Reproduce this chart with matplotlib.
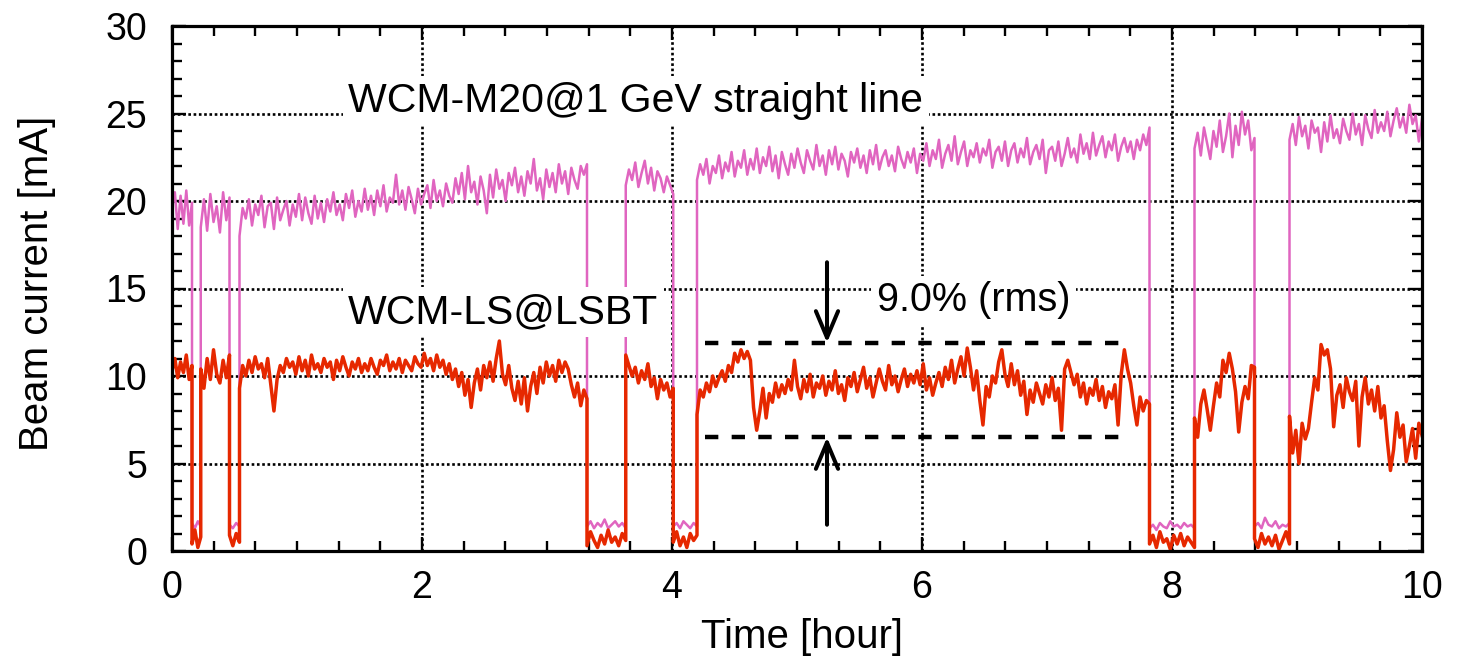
import numpy as np
import matplotlib
matplotlib.use("Agg")
import matplotlib.pyplot as plt
from matplotlib.ticker import MultipleLocator

# ---------------- data ----------------
# segment boundaries in hours (beam on / beam off alternating)
seg_bounds = [0.0, 0.16, 0.23, 0.46, 0.54, 3.32, 3.63, 4.01, 4.20, 7.82, 8.18, 8.66, 8.94, 10.0]

# WCM-M20 (pink) values per segment
pink_a = [19.6, 20.5, 18.4, 20.3, 18.7, 20.6, 18.6, 19.9]
pink_off1 = [1.6, 1.3, 1.7, 1.4]
pink_b = [18.5, 20.1, 18.3, 20.4, 18.8, 19.7, 18.2, 20.5, 18.9, 20.2]
pink_off2 = [1.5, 1.3, 1.6, 1.4]
pink_c = [18.0, 19.6, 19.0, 20.1, 18.6, 19.8, 19.2, 20.3, 18.5, 19.7,
          19.9, 18.4, 20.2, 18.9, 19.5, 20.0, 18.6, 19.8, 19.1, 20.4,
          18.9, 20.2, 19.3, 18.7, 20.3, 19.0, 19.9, 18.8, 20.1, 19.4,
          20.5, 19.2, 19.8, 18.9, 20.4, 19.6, 20.6, 19.1, 20.0, 19.4,
          20.7, 19.5, 20.3, 19.2, 20.6, 19.7, 20.9, 19.4, 20.2, 19.9,
          21.5, 19.8, 20.6, 19.5, 20.8, 20.1, 19.3, 20.7, 19.8, 20.4,
          20.9, 19.6, 21.2, 20.0, 20.6, 19.7, 21.0, 20.3, 19.9, 21.3,
          20.4, 21.6, 20.1, 22.0, 20.5, 21.1, 19.8, 21.4, 20.6, 19.3,
          21.5, 20.2, 21.8, 20.7, 21.2, 20.0, 21.6, 20.9, 21.9, 20.5,
          21.4, 20.3, 21.7, 21.0, 22.4, 20.6, 21.3, 20.1, 21.8, 20.8,
          21.6, 20.5, 22.1, 21.0, 21.7, 20.4, 21.9, 21.2, 20.7, 22.0,
          21.5, 22.1]
pink_off3 = [1.4, 1.7, 1.3, 1.6, 1.4, 1.8, 1.3, 1.5, 1.7, 1.4, 1.6, 1.3]
pink_d = [20.9, 21.8, 21.2, 22.2, 20.8, 21.6, 22.3, 21.0, 21.9, 20.6,
          21.7, 21.3, 20.5, 21.4, 20.9, 20.4]
pink_off4 = [1.4, 1.6, 1.3, 1.7, 1.5, 1.3, 1.6, 1.4]
pink_e = [21.2, 22.1, 21.5, 22.4, 21.0, 22.0, 21.6, 22.6, 21.3, 22.2,
          21.7, 22.8, 21.4, 22.3, 21.9, 22.9, 21.5, 22.4, 21.8, 23.0,
          21.6, 22.5, 22.0, 23.1, 21.7, 22.6, 21.3, 22.8, 22.1, 21.5,
          22.7, 21.9, 23.0, 22.2, 21.6, 22.9, 22.3, 21.8, 23.2, 22.0,
          22.6, 21.5, 22.9, 22.1, 23.1, 21.8, 22.7, 22.3, 21.4, 22.8,
          22.2, 23.0, 21.9, 22.6, 21.6, 22.9, 22.1, 23.2, 21.8, 22.5,
          22.9, 22.0, 22.6, 21.7, 23.1, 22.4, 21.9, 22.8, 22.2, 23.0,
          21.6, 22.7, 22.3, 23.3, 22.0, 22.9, 22.4, 23.5, 21.9, 22.7,
          23.2, 22.3, 23.7, 22.1, 22.8, 23.4, 22.0, 22.9, 22.5, 23.3,
          22.2, 23.0, 22.6, 23.5, 21.9, 22.8, 23.1, 22.3, 23.4, 22.0,
          22.9, 23.3, 22.2, 23.0, 22.5, 23.6, 22.1, 22.8, 23.2, 22.4,
          23.5, 21.6, 22.9, 23.1, 22.3, 23.4, 22.0, 22.7, 23.6, 22.5,
          23.0, 22.2, 23.8, 22.7, 23.3, 22.4, 23.9, 22.6, 23.2, 23.7,
          22.5, 23.4, 22.9, 23.8, 22.3, 23.1, 23.6, 22.8, 23.4, 22.4,
          23.5, 22.9, 23.8, 23.2, 24.2]
pink_off5 = [1.3, 1.5, 1.2, 1.6, 1.4, 1.3, 1.7, 1.4, 1.5, 1.3, 1.6, 1.4, 1.5, 1.3]
pink_f = [23.0, 23.9, 22.6, 24.2, 23.3, 22.4, 24.0, 23.1, 24.6, 22.8,
          23.7, 25.0, 22.5, 24.3, 23.2, 25.1, 23.8, 24.6, 22.9, 23.6]
pink_off6 = [1.4, 1.6, 1.3, 1.9, 1.5, 1.4, 1.7, 1.3, 1.5, 1.4, 1.6]
pink_g = [23.5, 24.4, 23.2, 24.8, 23.7, 24.3, 23.0, 24.6, 23.9, 24.2,
          22.8, 24.5, 23.4, 24.9, 23.6, 24.1, 23.3, 24.7, 24.0, 23.5,
          25.0, 23.8, 24.4, 23.2, 24.9, 24.1, 23.6, 25.2, 23.9, 24.5,
          24.0, 25.1, 23.7, 24.6, 25.3, 24.2, 24.8, 23.9, 25.5, 24.4,
          24.9, 23.4, 24.7]

# WCM-LS (red) values per segment
red_a = [10.3, 11.0, 9.9, 10.8, 10.2, 11.2, 9.8, 10.6]
red_off1 = [0.4, 1.2, 0.2, 0.8]
red_b = [10.4, 9.3, 11.0, 9.8, 11.5, 10.1, 9.6, 10.9, 9.9, 11.2]
red_off2 = [0.9, 0.3, 1.0, 0.5]
red_c = [9.3, 10.6, 10.0, 10.9, 10.2, 11.1, 10.4, 10.7, 9.9, 11.0,
         9.5, 8.0, 9.8, 10.6, 10.2, 11.0, 10.5, 10.8, 10.1, 11.1,
         10.3, 10.9, 10.0, 11.2, 10.4, 10.7, 10.2, 11.0, 10.5, 10.8,
         9.8, 10.9, 10.3, 11.1, 10.5, 10.0, 10.8, 10.4, 11.0, 10.2,
         10.7, 10.3, 11.0, 10.5, 10.1, 10.9, 10.6, 11.2, 10.3, 10.8,
         10.4, 11.0, 10.2, 10.9, 10.6, 10.3, 11.1, 10.7, 10.5, 11.3,
         10.6, 11.0, 10.3, 11.2, 10.5, 10.9, 10.1, 10.7, 9.8, 10.4,
         9.4, 10.2, 8.9, 9.8, 8.2, 9.6, 10.4, 9.2, 10.6, 9.9,
         10.8, 9.7, 11.0, 12.0, 10.1, 9.5, 10.6, 9.3, 8.6, 9.7,
         8.4, 9.9, 8.0, 9.4, 10.2, 9.0, 10.5, 9.6, 10.8, 10.0,
         10.6, 9.7, 10.9, 10.2, 10.8, 10.4, 9.5, 8.8, 9.6, 8.3,
         9.2, 8.7]
red_off3 = [0.3, 1.1, 0.6, 0.2, 0.9, 0.4, 1.2, 0.5, 0.8, 0.3, 1.0, 0.6]
red_d = [11.2, 10.6, 10.0, 10.5, 9.6, 10.3, 9.8, 10.7, 9.4, 9.9,
         8.7, 9.8, 9.2, 9.6, 8.8, 9.3]
red_off4 = [0.5, 1.1, 0.3, 0.8, 0.2, 1.0, 0.6, 0.9]
red_e = [7.8, 9.2, 8.8, 9.6, 9.1, 10.0, 9.4, 9.9, 10.3, 9.7,
         10.6, 10.2, 11.3, 10.8, 11.5, 11.0, 11.4, 10.9, 8.2, 6.9,
         8.0, 9.3, 7.6, 9.0, 8.5, 9.6, 8.8, 9.5, 9.0, 9.8,
         9.2, 10.9, 9.4, 8.7, 9.8, 9.1, 10.1, 8.8, 9.6, 9.3,
         10.0, 8.9, 9.7, 9.2, 10.3, 9.0, 9.5, 8.6, 9.9, 9.4,
         10.2, 9.1, 9.8, 10.5, 9.3, 9.9, 8.8, 9.6, 10.4, 9.7,
         9.2, 10.6, 9.5, 10.0, 9.1, 9.8, 10.4, 9.4, 10.1, 9.6,
         10.3, 9.5, 10.7, 9.2, 9.9, 8.9, 9.6, 10.2, 9.4, 10.5,
         9.8, 10.9, 9.6, 10.4, 11.1, 10.0, 11.6, 10.5, 9.2, 10.3,
         8.6, 7.2, 9.4, 8.8, 10.0, 9.6, 10.8, 11.5, 10.1, 9.4,
         10.7, 9.5, 10.3, 8.9, 9.7, 7.8, 9.2, 8.5, 9.6, 9.0,
         8.4, 9.5, 8.8, 9.9, 8.6, 9.3, 6.9, 10.4, 10.9, 10.2,
         9.5, 10.1, 8.8, 9.6, 8.4, 9.3, 8.9, 9.8, 8.6, 9.4,
         8.2, 9.1, 8.7, 9.5, 7.2, 10.1, 11.5, 10.4, 9.6, 8.3,
         7.2, 8.8, 8.0, 8.6, 8.4]
red_off5 = [0.4, 0.9, 0.2, 1.1, 0.5, 0.7, 0.1, 0.9, 0.4, 1.0, 0.3, 0.8, 0.5, 0.2]
red_f = [7.6, 6.5, 8.4, 9.2, 8.1, 6.9, 8.3, 9.6, 8.8, 10.9,
         10.2, 11.3, 10.4, 9.1, 6.8, 8.5, 9.4, 8.7, 10.6, 10.5]
red_off6 = [0.7, 0.2, 1.0, 0.4, 0.8, 0.3, 0.9, 0.1, 0.6, 1.1, 0.4]
red_g = [7.7, 5.6, 6.9, 5.0, 7.3, 6.4, 7.0, 8.5, 9.9, 9.2,
         11.8, 11.2, 11.5, 10.4, 7.1, 8.9, 9.5, 8.2, 9.9, 9.1,
         8.6, 9.7, 6.0, 8.8, 9.9, 8.4, 9.2, 8.0, 9.4, 7.6,
         8.3, 6.3, 4.6, 5.8, 7.9, 6.5, 7.2, 5.1, 6.0, 7.0,
         5.3, 7.3, 6.6]

pink_segments = [pink_a, pink_off1, pink_b, pink_off2, pink_c, pink_off3, pink_d,
                 pink_off4, pink_e, pink_off5, pink_f, pink_off6, pink_g]
red_segments = [red_a, red_off1, red_b, red_off2, red_c, red_off3, red_d,
                red_off4, red_e, red_off5, red_f, red_off6, red_g]

# rms band annotation
band_levels = [11.9, 6.5]
band_span = [4.26, 7.65]
arrow_x = 5.24
arrow_tails = [16.5, 1.5]

x_ticks = [0, 2, 4, 6, 8, 10]
y_ticks = [0, 5, 10, 15, 20, 25, 30]


def build(segments):
    ts, vs = [], []
    for i, vals in enumerate(segments):
        ts.append(np.linspace(seg_bounds[i], seg_bounds[i + 1], len(vals)))
        vs.append(np.asarray(vals, dtype=float))
    return np.concatenate(ts), np.concatenate(vs)


t_pink, v_pink = build(pink_segments)
t_red, v_red = build(red_segments)

# ---------------- plotting ----------------
plt.rcParams['font.family'] = ['Liberation Sans', 'DejaVu Sans']

fig = plt.figure(figsize=(14.57, 6.61), dpi=100)
ax = fig.add_axes([172 / 1457, 1 - 551 / 661, 1250 / 1457, 525 / 661])

ax.plot(t_pink, v_pink, color='#E065C0', lw=1.8, zorder=3)
ax.plot(t_red, v_red, color='#E62800', lw=2.5, zorder=4)

ax.set_xlim(0, 10)
ax.set_ylim(0, 30)
ax.set_xticks(x_ticks)
ax.set_yticks(y_ticks)
ax.xaxis.set_minor_locator(MultipleLocator(1 / 3))
ax.yaxis.set_minor_locator(MultipleLocator(1))

ax.grid(which='major', color='black', linestyle=(0, (1, 1)), lw=1.9, zorder=1)
ax.set_axisbelow(True)

for sp in ax.spines.values():
    sp.set_linewidth(2.3)
    sp.set_zorder(6)

ax.tick_params(which='both', direction='in', top=True, right=True, width=1.7,
               labelsize=27, color='black')
ax.tick_params(which='major', length=10)
ax.tick_params(which='minor', length=7)
ax.tick_params(axis='y', which='major', pad=18)
ax.tick_params(axis='x', which='major', pad=14)

ax.set_xlabel('Time [hour]', fontsize=29)
ax.set_ylabel('Beam current [mA]', fontsize=29)
ax.xaxis.set_label_coords(0.504, -0.128)
ax.yaxis.set_label_coords(-0.093, 0.51)

# dashed band
for lvl in band_levels:
    ax.hlines(lvl, band_span[0], band_span[1], colors='black', lw=3.2,
              linestyles=(0, (3, 3)), zorder=5)

# arrows
for tail, head in zip(arrow_tails, band_levels):
    ax.annotate('', xy=(arrow_x, head), xytext=(arrow_x, tail),
                arrowprops=dict(arrowstyle='->,head_length=0.95,head_width=0.4',
                                lw=2.9, color='black', shrinkA=0, shrinkB=0,
                                mutation_scale=20), zorder=5)

box = dict(facecolor='white', edgecolor='none', pad=4)
ax.text(1.41, 25.1, 'WCM-M20@1 GeV straight line', fontsize=29.5,
        va='baseline', ha='left', bbox=box, zorder=7)
ax.text(1.41, 13.03, 'WCM-LS@LSBT', fontsize=29.5,
        va='baseline', ha='left', bbox=box, zorder=7)
ax.text(5.64, 13.7, '9.0% (rms)', fontsize=28.5,
        va='baseline', ha='left', bbox=box, zorder=7)

fig.savefig('out.png', dpi=100)
